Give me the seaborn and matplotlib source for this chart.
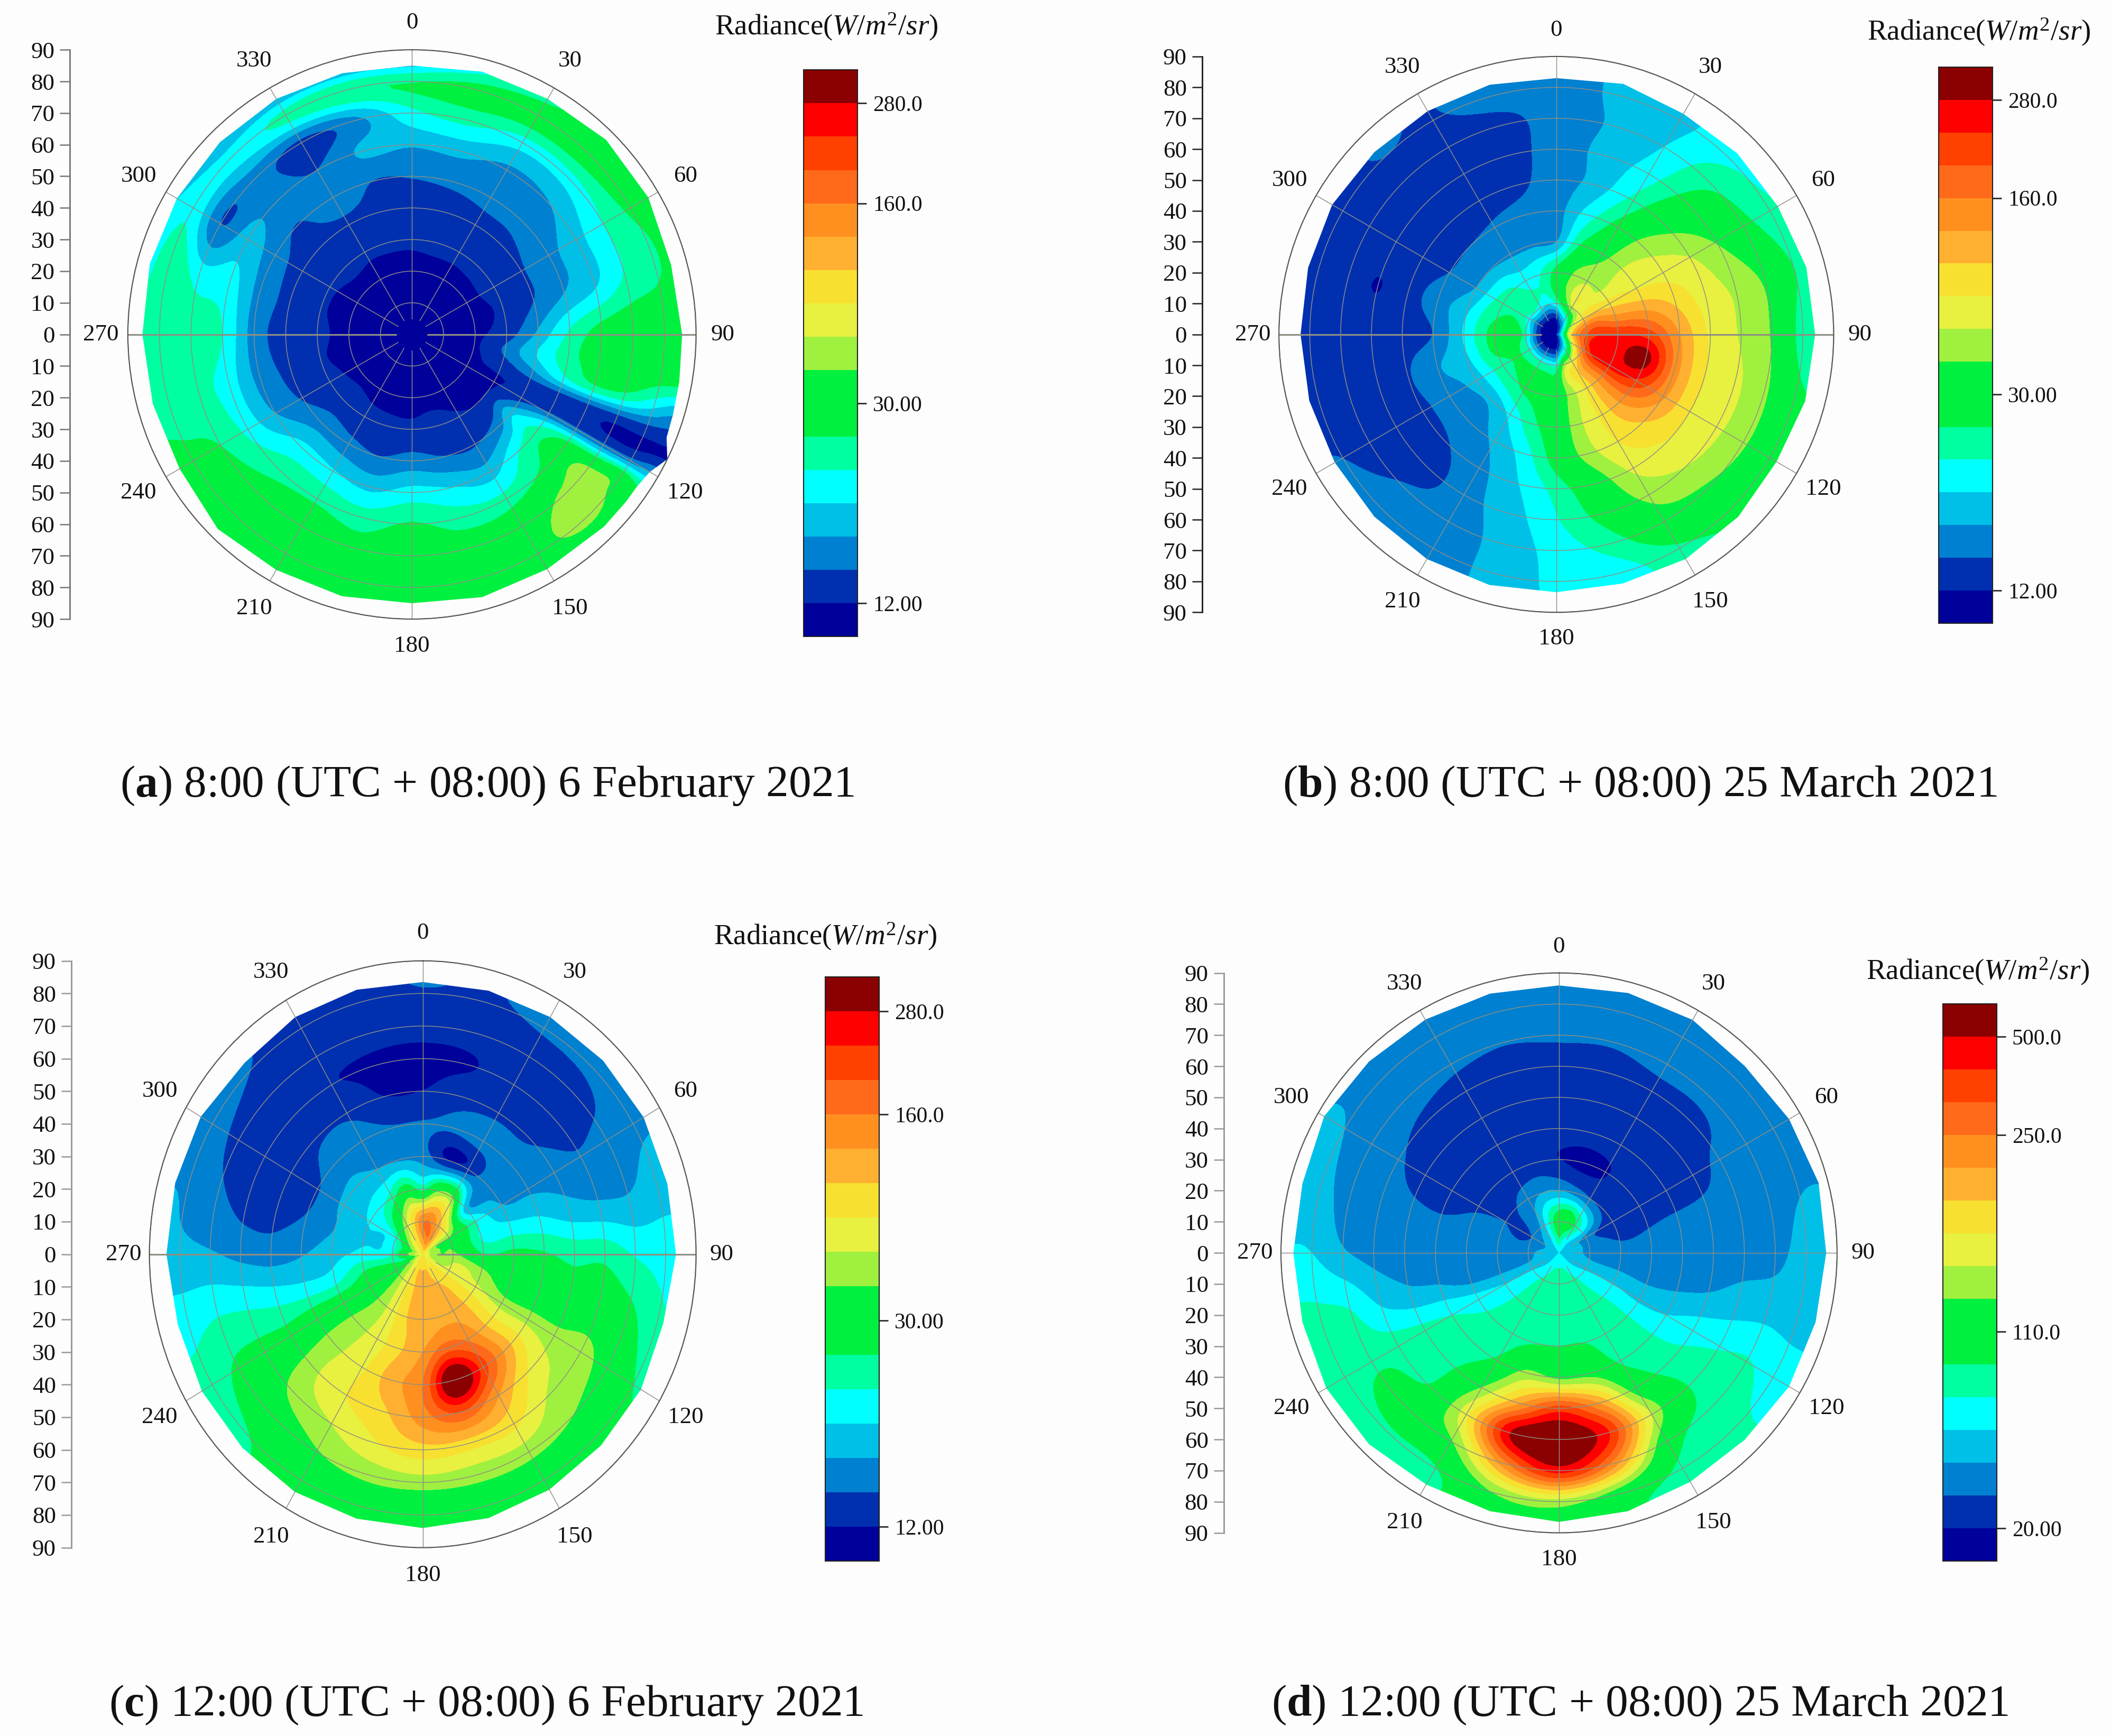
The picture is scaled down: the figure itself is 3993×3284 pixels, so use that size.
import numpy as np
import matplotlib
matplotlib.use("Agg")
import matplotlib.pyplot as plt
import seaborn as sns
from matplotlib.colors import ListedColormap
from matplotlib.patches import Polygon

# --- Data ---
# All grids are positions on the colourbar scale (0 = bottom edge, 17 = top edge),
# one list per azimuth, entries for zenith angles in ZENITH.
ZENITH = [5, 10, 20, 30, 40, 50, 60, 70, 80]
AZ = list(range(0, 360, 15))
AZ_A = [0, 15, 30, 45, 60, 75, 90, 100, 107, 112, 116, 120, 124, 128, 135,
        150, 165, 180, 195, 210, 225, 240, 255, 270, 285, 300, 315, 330, 345]

grid_a = [
    [.3, .4, .8, 1.1, 1.45, 2.05, 3.1, 4.7, 6.0],
    [.3, .4, .8, 1.15, 1.5, 2.2, 3.3, 5.3, 6.5],
    [.3, .4, .75, 1.2, 1.7, 2.25, 2.75, 4.5, 6.8],
    [.3, .4, .8, 1.2, 1.75, 2.3, 2.9, 4.5, 6.8],
    [.3, .4, .8, 1.25, 1.9, 2.7, 3.6, 5.0, 6.2],
    [.3, .4, .75, 1.15, 2.0, 3.0, 3.85, 5.1, 5.8],
    [.3, .4, .8, 1.5, 3.2, 5.2, 6.5, 7, 7],
    [.3, .4, .8, 2.2, 4.0, 5.5, 6.5, 7, 6.5],
    [.3, .4, .8, 1.6, 2.8, 4.5, 5.5, 5.3, 4.0],
    [.3, .4, .8, 1.2, 1.6, 1.6, 1.5, 1.4, 1.5],
    [.3, .4, .7, .9, 1.2, 1.3, 1.3, .8, .7],
    [.3, .4, .7, .9, 1.5, 2.0, 2.0, 2.0, 2.2],
    [.3, .4, .7, .9, 2.5, 4.5, 6, 6.5, 7.5],
    [.3, .4, .7, 1.0, 3.8, 5.5, 7, 8.5, 7.8],
    [.3, .4, .7, .95, 2.7, 5.2, 6.3, 8.4, 8.4],
    [.3, .4, .7, 1.1, 1.9, 3.5, 5.4, 7, 7.5],
    [.3, .4, .75, 1.3, 2.0, 4.0, 5.5, 6.6, 7],
    [.3, .4, .75, 1.2, 2.4, 4.4, 6.1, 6.8, 7],
    [.3, .4, .75, 1.2, 2.0, 3.7, 5.5, 6.4, 7],
    [.3, .4, .75, 1.3, 2.3, 4.1, 5.8, 6.8, 7],
    [.3, .4, .8, 1.5, 2.5, 4.3, 5.6, 6.5, 7],
    [.3, .4, .75, 1.3, 1.9, 3.0, 4.7, 6.0, 6.3],
    [.3, .4, .7, 1.1, 1.7, 2.6, 4.5, 5.3, 5.5],
    [.3, .4, .7, 1.2, 1.6, 2.5, 5.0, 5.5, 5.5],
    [.3, .4, .7, 1.1, 1.7, 2.6, 4.5, 4.6, 5.9],
    [.3, .4, .75, 1.1, 1.6, 2.4, 3.5, 1.9, 4.8],
    [.3, .4, .75, 1.2, 1.5, 1.95, 2.6, 2.4, 4.5],
    [.3, .4, .8, 1.1, 1.5, 3.0, 2.0, 1.6, 5.5],
    [.3, .4, .8, 1.1, 1.5, 1.98, 3.2, 2.6, 6.0],
]
edge_a = [85, 86, 86, 87, 86.5, 85, 85.6, 86, 86.5, 87, 90, 87, 86, 86, 86,
          85.7, 86, 85, 85.7, 86, 87, 85, 85, 85.4, 86, 86, 86, 86, 85.5]
# colour at the outer rim of panel a
rim_a = [3, 4.5, 5.5, 6.5, 6.5, 6.5, 7, 6.5, 3, 1.5, .7, 3, 6, 7, 7,
         7, 7, 7, 7, 7, 7, 6.5, 5.5, 5.5, 4.5, 3.8, 2.8, 2.8, 2.8]

grid_b = [
    [.7, 5, 6.5, 2.9, 2.6, 2.5, 2.5, 2.5, 2.5],
    [2.5, 7, 8, 6, 4.5, 3.4, 3.3, 3.1, 3.2],
    [3.5, 9, 8.8, 7.5, 6.5, 5.3, 4.5, 4, 3.7],
    [6, 9.3, 8.9, 9, 8.5, 7.5, 6.5, 5.7, 4.8],
    [8, 10.5, 10.5, 9.9, 9.6, 9, 7.9, 6.5, 5.2],
    [10, 13, 12.5, 12, 10.8, 9.5, 8.8, 7.8, 6],
    [11, 14, 15, 14.5, 12, 9.8, 8.9, 7.9, 5.5],
    [10, 14.5, 15.5, 16.5, 12.5, 10, 9.2, 8.2, 6.3],
    [8, 13.5, 15.3, 14.8, 12.2, 10, 9.2, 8.2, 6.5],
    [6, 11.5, 12.5, 12.3, 11, 9.9, 9, 7.8, 6.3],
    [4, 9.6, 10.3, 10.3, 10, 9.2, 8.3, 7.3, 5.8],
    [2.5, 8.5, 8.5, 8.8, 8.5, 7.2, 6.5, 5.5, 4.5],
    [1, 5, 7, 6.9, 6.6, 5.4, 4.9, 4.4, 4.2],
    [.8, 5, 6.3, 5.7, 4.5, 3.9, 3.5, 3.3, 3.3],
    [.7, 5, 6.2, 4.2, 3.2, 2.7, 2.6, 2.5, 2.5],
    [.6, 5, 5.8, 3.2, 2.5, 1.95, 1.5, 2.1, 2.5],
    [.6, 5, 5.6, 3.4, 2.5, 1.8, 1.5, 1.5, 2],
    [.6, 5, 6.3, 3.8, 2.9, 1.9, 1.5, 1.5, 1.6],
    [.6, 5.5, 6.4, 4.1, 2, 1.6, 1.5, 1.4, 1.4],
    [.6, 5, 6, 3.8, 2.5, 1.6, .95, 1.4, 1.4],
    [.6, 4.5, 5.5, 3, 2, 1.6, 1.4, 1.4, 1.4],
    [.6, 5, 5.2, 2.9, 2, 1.5, 1.4, 1.4, 2],
    [.6, 4.5, 4.5, 2.8, 2.1, 1.7, 1.5, 1.5, 1.9],
    [.6, 4, 5, 2.8, 2.3, 1.8, 1.6, 1.6, 2.5],
]
edge_b = [83, 84, 82.5, 83, 83, 84, 84, 83.6, 82.5, 83.5, 84, 83.5, 83.5, 84, 84,
          83.5, 83, 83, 83, 83.4, 84, 83.5, 83.5, 83.7]

grid_c = [
    [12, 13, 5.5, 2.5, 2.1, 1, .8, 1.3, 1.95],
    [13, 13, 8, .9, 2.2, 1.6, .9, 1.4, 1.9],
    [12, 11.5, 8, 1.3, 2.5, 1.8, 1.5, 1.5, 2.1],
    [10, 10, 3.3, 2.7, 2.4, 1.9, 1.5, 1.5, 2.3],
    [8, 8, 5, 3, 2.8, 2.5, 2.1, 2.4, 2.8],
    [8, 8, 4.8, 4.5, 4.2, 3.5, 3.1, 3, 3.5],
    [8, 8.2, 6, 6.3, 6.1, 5.7, 5.7, 4.9, 4.6],
    [8, 9, 8.3, 6.8, 6.6, 6.5, 6.8, 6.3, 5.2],
    [9, 9.3, 9.2, 8.5, 8.6, 8.4, 8.5, 7.3, 6],
    [10, 10.5, 10.8, 10.8, 11.3, 9.8, 8.8, 8, 6.5],
    [10, 11, 11.5, 12.8, 14.5, 12, 10.3, 8.4, 6.9],
    [11, 11.5, 11.5, 13.5, 17.5, 14, 10.5, 8.4, 7],
    [11, 11.5, 11, 12, 13, 12.5, 10.6, 8.5, 6.5],
    [11, 11, 11, 10.8, 11.6, 10.8, 9.9, 8.3, 7],
    [10, 9.9, 9.5, 9.5, 9.8, 10, 9, 7.9, 6.8],
    [9, 8.5, 8.2, 8.5, 8.7, 8.8, 8.3, 7, 6],
    [8, 7, 6.7, 7, 7, 6.6, 6.5, 6.2, 5.4],
    [6, 6, 6, 4.5, 4.3, 4.5, 4.8, 4.9, 4.6],
    [8, 5, 4.3, 3.6, 2.9, 2.5, 2.7, 3.1, 3.2],
    [7, 4.6, 3.9, 3, 2.1, 1.7, 1.7, 2.2, 2.9],
    [8, 5, 4.1, 3.2, 1.9, 1.5, 1.5, 1.7, 2.5],
    [9, 7, 4.6, 3.3, 2.5, 1.85, 1.5, 1.5, 2],
    [10, 9, 5.5, 3, 2.5, 1.8, 1.05, 1.4, 1.8],
    [11, 11, 7, 2.8, 2.1, 1, .85, 1.3, 1.8],
]
edge_c = [83.5, 83.7, 84, 84, 84, 83.4, 83.4, 82, 83, 83, 83.4, 83.8, 84, 84, 84.2,
          84, 84, 83.5, 84.4, 84.4, 84.4, 83, 84, 84]

grid_d = [
    [6, 7, 3, 1, 1.5, 1.5, 1.5, 2.15, 2.5],
    [5, 7.2, 2.5, .7, 1.5, 1.5, 1.6, 2.1, 2.6],
    [4.5, 6, 2, .9, 1.5, 1.5, 1.7, 2.3, 2.7],
    [3.8, 4.5, 1.7, 1.5, 1.5, 1.5, 1.6, 2.4, 2.8],
    [3.5, 2.5, 1.5, 1.6, 1.4, 1.6, 2.2, 2.5, 2.8],
    [3.5, 2.6, 1.9, 2, 2.2, 2.3, 2.4, 2.6, 2.95],
    [3.5, 2.6, 2.3, 2.4, 2.5, 2.5, 2.6, 2.7, 3.4],
    [3.5, 3.1, 2.9, 2.7, 2.8, 3, 3.4, 3.6, 3.6],
    [3.6, 3.8, 4, 3.8, 4, 4.6, 4.9, 5.1, 4.6],
    [4, 4.5, 5, 5.2, 5.3, 5.5, 5.9, 5.6, 5.2],
    [4.5, 5.2, 5.3, 5.5, 5.8, 7.2, 9, 6.9, 5.7],
    [5, 5.4, 5.5, 6, 7.5, 12, 15.3, 12.5, 7],
    [5, 5.3, 5.5, 6, 7.6, 14.5, 17.2, 15.5, 8.5],
    [5, 5.4, 5.5, 5.9, 8.3, 11.8, 16.2, 12.5, 8],
    [4.5, 5.2, 5.3, 5.5, 6.2, 8, 9.7, 7.8, 5.9],
    [4, 4.6, 5, 5.2, 5.3, 5.7, 6, 7.6, 5.6],
    [3.6, 3.8, 4, 4.5, 5, 5.3, 5.5, 5.6, 5.1],
    [3.5, 2.9, 2.6, 2.5, 3, 3.2, 3.8, 5, 5.2],
    [3.5, 2.6, 2.4, 2.4, 2.5, 2.6, 2.7, 3.1, 4],
    [3, 2.2, 2.2, 2.2, 2.1, 2.2, 2.4, 2.6, 3.3],
    [3, 2, 2, 1.9, 1.6, 1.7, 2.1, 2.5, 3],
    [3.5, 2.5, 1.95, 1.5, 1.4, 1.5, 1.8, 2.4, 2.8],
    [4, 3.5, 2.5, 1.4, 1.4, 1.4, 1.6, 2.2, 2.7],
    [5, 5.5, 3, 1.4, 1.4, 1.4, 1.6, 2.05, 2.6],
]
edge_d = [86, 86.5, 86.5, 85, 86, 87, 86.5, 86, 86, 85, 85, 86, 86.5, 86, 86,
          87, 87, 86, 86, 86, 87.8, 87, 86.6, 86.3]

band_colors = ["#00009B", "#0030B0", "#0080D0", "#00C0E8", "#00FFFF", "#00FFA0",
               "#00F040", "#00F040", "#A0F040", "#E8F040", "#F8E030", "#FFB030",
               "#FF9020", "#FF6A1A", "#FF4000", "#FF0000", "#8B0000"]
tick_pos = [1, 7, 13, 16]
ticks_abc = ["12.00", "30.00", "160.0", "280.0"]
ticks_d = ["20.00", "110.0", "250.0", "500.0"]
captions = ["8:00 (UTC + 08:00) 6 February 2021", "8:00 (UTC + 08:00) 25 March 2021",
            "12:00 (UTC + 08:00) 6 February 2021", "12:00 (UTC + 08:00) 25 March 2021"]

# --- Layout, in pixels of the 1568x1290 preview ---
W, H = 1568.0, 1290.0
panels = [
    dict(key="a", az=AZ_A, grid=grid_a, edge=edge_a, rim=rim_a, centre=.3, cx=306, cy=248.5, rx=211, ry=211.5,
         axis_x=52, bar=(597, 52, 637, 473), ticks=ticks_abc, title=(614, 20), cap=(362, 584), line="#777777"),
    dict(key="b", az=AZ, grid=grid_b, edge=edge_b, rim=None, centre=.5, cx=1156, cy=248.5, rx=206, ry=206.5,
         axis_x=893, bar=(1440, 50, 1480, 463), ticks=ticks_abc, title=(1470, 24), cap=(1218, 584), line="#222222"),
    dict(key="c", az=AZ, grid=grid_c, edge=edge_c, rim=None, centre=10, cx=314, cy=932, rx=203, ry=218,
         axis_x=53, bar=(613, 726, 653, 1160), ticks=ticks_abc, title=(613, 696), cap=(361, 1267), line="#999999"),
    dict(key="d", az=AZ, grid=grid_d, edge=edge_d, rim=None, centre=4, cx=1158, cy=931, rx=206.5, ry=208,
         axis_x=909, bar=(1443, 746, 1483, 1160), ticks=ticks_d, title=(1469, 722), cap=(1218, 1267), line="#999999"),
]

sns.set_theme(style="white")
plt.rcParams["font.family"] = ["Liberation Serif", "DejaVu Serif"]
plt.rcParams["mathtext.fontset"] = "custom"
plt.rcParams["mathtext.rm"] = "Liberation Serif"
plt.rcParams["mathtext.it"] = "Liberation Serif:italic"
plt.rcParams["mathtext.bf"] = "Liberation Serif:bold"

TICK_SIZE = 10.8
GRID_COLOR = "#8f8f84"
palette = sns.color_palette(band_colors)
levels = np.arange(0, 18)


def hermite(xq, xk, yk):
    # cubic curve through the read values
    m = np.gradient(yk, xk)
    i = np.clip(np.searchsorted(xk, xq, side="right") - 1, 0, len(xk) - 2)
    h = xk[i + 1] - xk[i]
    t = (xq - xk[i]) / h
    return ((2 * t**3 - 3 * t**2 + 1) * yk[i] + (t**3 - 2 * t**2 + t) * h * m[i]
            + (-2 * t**3 + 3 * t**2) * yk[i + 1] + (t**3 - t**2) * h * m[i + 1])


def fine_grid(p):
    # fine polar mesh through the read values, so that contours come out round
    az = np.array(p["az"], dtype=float)
    grid = np.array(p["grid"], dtype=float)
    r_knots = [0.0] + ZENITH
    cols = [np.full(len(az), p["centre"])] + list(grid.T)
    if p["rim"] is not None:
        r_knots.append(87.0)
        cols.append(np.array(p["rim"], dtype=float))
    cols.append(cols[-1])
    r_knots.append(95.0)
    r_knots = np.array(r_knots)
    rows = np.array(cols)

    fine_az = np.arange(0.0, 360.0)
    fine_r = np.arange(0.0, 91.0)
    az_wrap = np.r_[az[-3:] - 360, az, az[:3] + 360]
    by_az = np.array([hermite(fine_az, az_wrap, np.r_[row[-3:], row, row[:3]]) for row in rows])
    z = np.array([hermite(fine_r, r_knots, by_az[:, j]) for j in range(len(fine_az))]).T

    for _ in range(2):
        pad = np.pad(z, 1, mode="edge")
        pad[1:-1, 0] = z[:, -1]
        pad[1:-1, -1] = z[:, 0]
        z = sum(pad[1 + i:pad.shape[0] - 1 + i, 1 + j:pad.shape[1] - 1 + j]
                for i in (-1, 0, 1) for j in (-1, 0, 1)) / 9.0
    z = np.clip(z, 0.01, 16.99)
    z = np.c_[z, z[:, 0]]
    return np.deg2rad(np.r_[fine_az, 360.0]), fine_r, z


fig = plt.figure(figsize=(3993 / 300, 3284 / 300), dpi=300, facecolor="#fdfdfd")

for p in panels:
    # polar contour
    rect = [(p["cx"] - p["rx"]) / W, 1 - (p["cy"] + p["ry"]) / H, 2 * p["rx"] / W, 2 * p["ry"] / H]
    ax = fig.add_axes(rect, projection="polar")
    ax.set_aspect("auto")
    ax.set_facecolor("none")
    ax.set_theta_zero_location("N")
    ax.set_theta_direction(-1)
    theta, rad, z = fine_grid(p)
    cs = ax.contourf(theta, rad, z, levels=levels, colors=palette)
    outline = np.c_[np.deg2rad(p["az"]), p["edge"]]
    cs.set_clip_path(Polygon(outline, closed=True, transform=ax.transData))
    ax.set_ylim(0, 90)
    ax.set_rticks(range(10, 100, 10))
    ax.set_yticklabels([])
    ax.set_xticks(np.deg2rad(range(0, 360, 30)))
    ax.set_xticklabels([])
    ax.set_xticks(np.deg2rad(range(15, 360, 30)), minor=True)
    ax.tick_params(axis="x", which="major", length=0)
    ax.tick_params(axis="x", which="minor", length=2.5, width=0.5, direction="in", color="#333333")
    ax.xaxis.grid(False)
    ax.yaxis.grid(True, color=GRID_COLOR, linewidth=0.35)
    ax.set_axisbelow(False)
    ax.spines["polar"].set_color("#333333")
    ax.spines["polar"].set_linewidth(0.5)
    for a in range(0, 360, 30):
        # spokes stop short of the centre, the 90-270 line is heavier in a, b and c
        heavy = a in (90, 270) and p["key"] != "d"
        ax.plot(np.deg2rad([a, a]), [5, 90], color=GRID_COLOR, lw=0.75 if heavy else 0.35)
        label_r = 98.5 if a % 90 == 0 else 100
        ax.text(np.deg2rad(a), label_r, str(a), ha="center", va="center", fontsize=TICK_SIZE, color="#111111")
    ax.set_ylim(0, 90)

    # zenith axis on the left
    side = fig.add_axes([p["axis_x"] / W, rect[1], 2 / W, rect[3]])
    side.set_ylim(-90, 90)
    side.set_xticks([])
    side.set_yticks(range(-90, 100, 10))
    side.set_yticklabels([str(abs(v)) for v in range(-90, 100, 10)], fontsize=TICK_SIZE, color="#111111")
    side.tick_params(axis="y", length=4.5, width=0.6, color=p["line"], pad=2.5, left=True)
    side.set_facecolor("none")
    sns.despine(ax=side, left=False, top=True, bottom=True, right=True)
    side.spines["left"].set_color(p["line"])
    side.spines["left"].set_linewidth(0.7)

    # colourbar strip
    x0, y0, x1, y1 = p["bar"]
    cax = fig.add_axes([x0 / W, 1 - y1 / H, (x1 - x0) / W, (y1 - y0) / H])
    sns.heatmap(levels[:-1][::-1].reshape(-1, 1), ax=cax, cmap=ListedColormap(palette), cbar=False,
                xticklabels=False, yticklabels=False, linewidths=0, vmin=-0.5, vmax=16.5)
    cax.set_yticks([17 - t for t in tick_pos])
    cax.set_yticklabels(p["ticks"], rotation=0, fontsize=10, color="#111111")
    cax.yaxis.tick_right()
    cax.tick_params(axis="y", length=4, width=0.7, color="#333333", pad=3, right=True, left=False)
    for s in cax.spines.values():
        s.set_visible(True)
        s.set_color("#222222")
        s.set_linewidth(0.5)

    # texts
    fig.text(p["title"][0] / W, 1 - p["title"][1] / H, r"Radiance($W/m^2/sr$)", ha="center", va="center",
             fontsize=13.2, color="#111111")
    fig.text(p["cap"][0] / W, 1 - p["cap"][1] / H, "($\\mathbf{%s}$) %s" % (p["key"], captions["abcd".index(p["key"])]),
             ha="center", va="center", fontsize=20.5, color="#111111")

fig.savefig("out.png", dpi=300, facecolor=fig.get_facecolor())
